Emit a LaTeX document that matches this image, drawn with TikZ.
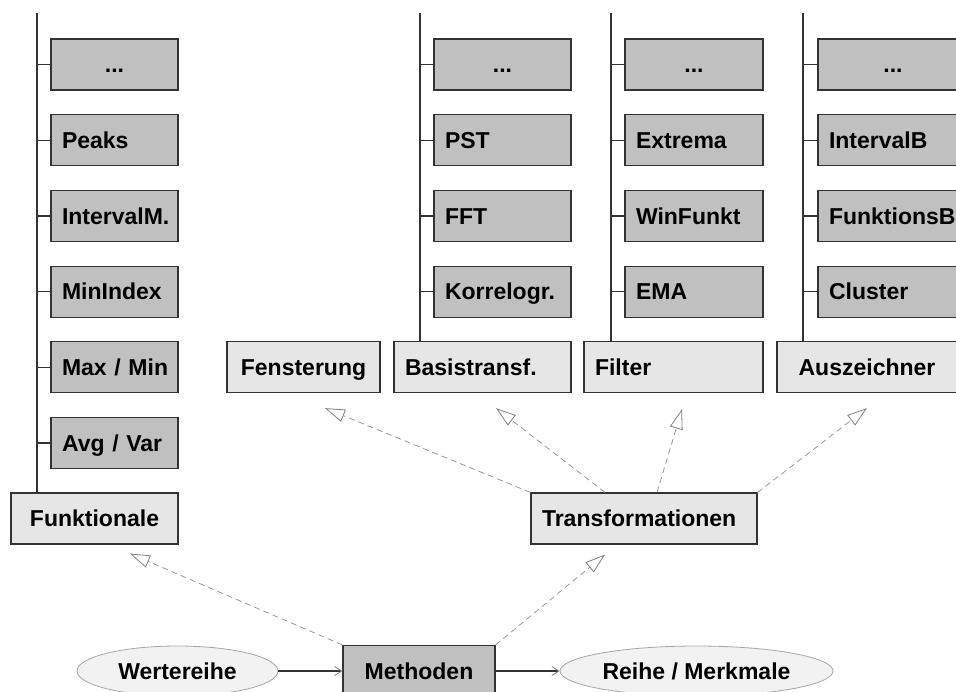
\documentclass[tikz,border=0pt]{standalone}
\usepackage{fontspec}
\setmainfont{Liberation Sans}
\usetikzlibrary{arrows.meta,positioning,calc,shapes.geometric}
\hyphenpenalty=10000
\exhyphenpenalty=10000
\definecolor{linegray}{HTML}{333333}
\definecolor{leafgray}{HTML}{C0C0C0}
\definecolor{boxgray}{HTML}{E6E6E6}
\definecolor{ellgray}{HTML}{F2F2F2}
\definecolor{dashgray}{HTML}{999999}
\tikzset{
  txt/.style={font=\bfseries\fontsize{23}{27}\selectfont, text height=16.5pt, text depth=0pt},
  leaf/.style={txt, draw=linegray, line width=1.2pt, fill=leafgray, minimum height=51pt, inner xsep=11pt, text width=#1, align=left},
  group/.style={txt, draw=linegray, line width=1.2pt, fill=boxgray, minimum height=51pt, inner xsep=11pt, text width=#1, align=left},
  ell/.style={txt, ellipse, draw=gray!70, fill=ellgray, line width=0.8pt, inner sep=0pt, minimum height=50pt},
  trunk/.style={draw=linegray, line width=1.2pt},
  flow/.style={draw=linegray, line width=1.2pt, -{Straight Barb[length=7pt,width=9pt,line width=0.8pt,color=gray]}},
  gen/.style={draw=dashgray, line width=0.8pt, dash pattern=on 6pt off 4pt, -{Triangle[open,length=20pt,width=13pt,line width=0.8pt,color=gray]}}
}
\begin{document}
\begin{tikzpicture}[x=1pt,y=-1pt]
\path[use as bounding box, clip] (0,0) rectangle (956,691);

\node[group=145pt, align=center] (funk) at (94.5,518.5) {Funktionale};
\node[group=131pt, align=center] (fenst) at (303.5,367) {Fensterung};
\node[group=155pt] (basis) at (482.5,367) {Basistransf.};
\node[group=157pt] (filt) at (673.5,367) {Filter};
\node[group=158pt, align=center] (ausz) at (867,367) {Auszeichner};
\node[group=204pt] (trans) at (644,518.5) {Transformationen};
\node[leaf=130pt, align=center] (meth) at (419,671) {Methoden};
\node[ell, minimum width=201pt] (wert) at (177.5,671) {Wertereihe};
\node[ell, minimum width=273pt] (reihe) at (696.5,671) {Reihe / Merkmale};

\coordinate (tF) at (37,13);
\coordinate (tB) at (420,13);
\coordinate (tI) at (611,13);
\coordinate (tA) at (803,13);

\node[leaf=105pt, align=center] (fk1) at (114.5,64.5) {...};
\foreach \lbl [count=\i from 2] in {Peaks, IntervalM., MinIndex, Max / Min, Avg / Var}
  \node[leaf=105pt] (fk\i) at (114.5,{64.5+75.7*(\i-1)}) {\mbox{\lbl}};

\node[leaf=115pt, align=center] (bt1) at (502.5,64.5) {...};
\foreach \lbl [count=\i from 2] in {PST, FFT, Korrelogr.}
  \node[leaf=115pt] (bt\i) at (502.5,{64.5+75.7*(\i-1)}) {\mbox{\lbl}};

\node[leaf=116pt, align=center] (fi1) at (694,64.5) {...};
\foreach \lbl [count=\i from 2] in {Extrema, WinFunkt, EMA}
  \node[leaf=116pt] (fi\i) at (694,{64.5+75.7*(\i-1)}) {\mbox{\lbl}};

\node[leaf=128pt, align=center] (az1) at (893,64.5) {...};
\foreach \lbl [count=\i from 2] in {IntervalB, FunktionsB, Cluster}
  \node[leaf=128pt] (az\i) at (893,{64.5+75.7*(\i-1)}) {\mbox{\lbl}};

\draw[trunk] (tF) -- (tF |- funk.north);
\draw[trunk] (tB) -- (tB |- basis.north);
\draw[trunk] (tI) -- (tI |- filt.north);
\draw[trunk] (tA) -- (tA |- ausz.north);
\foreach \i in {1,...,6}
  \draw[trunk] (fk\i.west) -- (fk\i.west -| tF);
\foreach \i in {1,...,4} {
  \draw[trunk] (bt\i.west) -- (bt\i.west -| tB);
  \draw[trunk] (fi\i.west) -- (fi\i.west -| tI);
  \draw[trunk] (az\i.west) -- (az\i.west -| tA);
}

\draw[flow] (wert) -- (meth);
\draw[flow] (meth) -- (reihe);

\draw[gen] (meth.north west) -- ($(funk.south)+(35.5,9)$);
\draw[gen] (meth.north east) -- ($(trans.south)+(-39,10)$);
\draw[gen] (trans.north west) -- ($(fenst.south)+(21.5,15)$);
\draw[gen] ($(trans.north)+(-39,0)$) -- ($(basis.south)+(13.5,15)$);
\draw[gen] ($(trans.north)+(13,0)$) -- ($(filt.south)+(8.5,16)$);
\draw[gen] (trans.north east) -- ($(ausz.south)+(0,15)$);
\end{tikzpicture}
\end{document}
